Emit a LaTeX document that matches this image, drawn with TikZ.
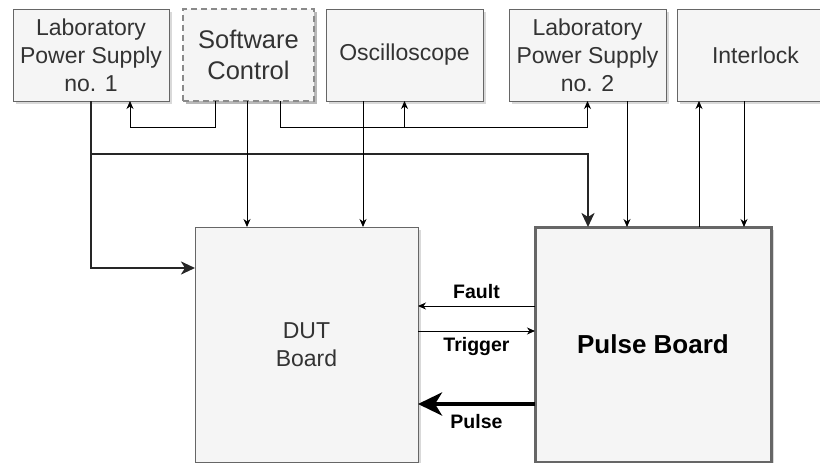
\documentclass[tikz,border=0pt]{standalone}
\usepackage{fontspec}
\setmainfont{Liberation Sans}
\usetikzlibrary{arrows.meta,shadows,calc}
\definecolor{boxfill}{HTML}{F5F5F5}
\definecolor{boxline}{HTML}{666666}
\definecolor{txt}{HTML}{333333}
\definecolor{dashline}{HTML}{8A8A8A}
\begin{document}
\begin{tikzpicture}[x=1pt,y=-1pt,
  box/.style={draw=boxline, line width=1pt, fill=boxfill, inner sep=0pt, outer sep=0pt,
    align=center, text=txt, font=\fontsize{23}{27.8}\selectfont,
    drop shadow={shadow xshift=2.5pt, shadow yshift=-2.5pt, fill=black, opacity=0.15}},
  topbox/.style={box, minimum height=92pt},
  swbox/.style={box, draw=dashline, line width=2pt, dash pattern=on 6pt off 4pt,
    font=\fontsize{25.5}{31.5}\selectfont},
  bigbox/.style={box, minimum height=235pt},
  conn/.style={draw=black, line width=1pt, -{Stealth[length=8pt,width=7pt,inset=2.5pt]}},
  thickconn/.style={draw=black!85, line width=2.5pt, -{Stealth[length=14pt,width=13pt,inset=4pt]}},
  pulseconn/.style={draw=black, line width=4pt, -{Stealth[length=24pt,width=23pt,inset=7pt]}},
  lbl/.style={font=\bfseries\fontsize{19.5}{23}\selectfont, anchor=base, text=black}
]
\useasboundingbox (0,0) rectangle (820,463);
\fill[white] (0,0) rectangle (820,463);
\clip (0,0) rectangle (820,463);

% top row
\node[topbox, minimum width=156pt] (lps1) at (91,55) {Laboratory\\Power Supply\\no. 1};
\node[topbox, swbox, minimum width=131pt] (sw) at (248.5,55) {Software\\Control};
\node[topbox, minimum width=157pt] (osc) at (404.5,55) {Oscilloscope};
\node[topbox, minimum width=157pt] (lps2) at (587.5,55) {Laboratory\\Power Supply\\no. 2};
\node[topbox, minimum width=157pt] (intl) at (755.5,55) {Interlock};

% lower boxes
\node[bigbox, minimum width=223pt] (dut) at (306.5,344.5) {DUT\\Board};
\node[bigbox, minimum width=236pt, line width=3pt, text=black,
      font=\bfseries\fontsize{26}{31}\selectfont] (pb) at (653,344.5) {Pulse Board};

% junction coordinates
\coordinate (j1) at ([yshift=-53pt]lps1.south);
\coordinate (j2) at ([yshift=-26pt]sw.south);

% thick power supply 1 connections
\draw[thickconn] (lps1.south) |- ([yshift=-41pt]dut.north west);
\draw[thickconn] (j1) -| ([xshift=-65pt]pb.north);

% software control connections
\draw[conn] ([xshift=-33.5pt]sw.south) |- ([xshift=39pt]lps1.south |- j2) -- ([xshift=39pt]lps1.south);
\draw[conn] ([xshift=-1.5pt]sw.south) -- ([xshift=-1.5pt]sw.south |- dut.north);
\draw[conn] ([xshift=31.5pt]sw.south) |- (j2 -| lps2.south) -- (lps2.south);
\draw[conn] (j2 -| osc.south) -- (osc.south);

% oscilloscope to DUT
\draw[conn] ([xshift=-41.5pt]osc.south) -- ([xshift=-41.5pt]osc.south |- dut.north);

% power supply 2 to pulse board
\draw[conn] ([xshift=39.5pt]lps2.south) -- ([xshift=39.5pt]lps2.south |- pb.north);

% interlock
\draw[conn] ([xshift=46pt]pb.north) -- ([xshift=46pt]pb.north |- intl.south);
\draw[conn] ([xshift=-11.5pt]intl.south) -- ([xshift=-11.5pt]intl.south |- pb.north);

% signals between boards
\draw[conn] ([yshift=-79pt]pb.north west) -- ([yshift=-79pt]pb.north west -| dut.east)
  node[lbl, midway, yshift=8pt] {Fault};
\draw[conn] ([yshift=-104pt]dut.north east) -- ([yshift=-104pt]dut.north east -| pb.west)
  node[lbl, midway, yshift=-20pt] {Trigger};
\draw[pulseconn] ([yshift=-177pt]pb.north west) -- ([yshift=-177pt]pb.north west -| dut.east)
  node[lbl, midway, yshift=-24pt] {Pulse};
\end{tikzpicture}
\end{document}
